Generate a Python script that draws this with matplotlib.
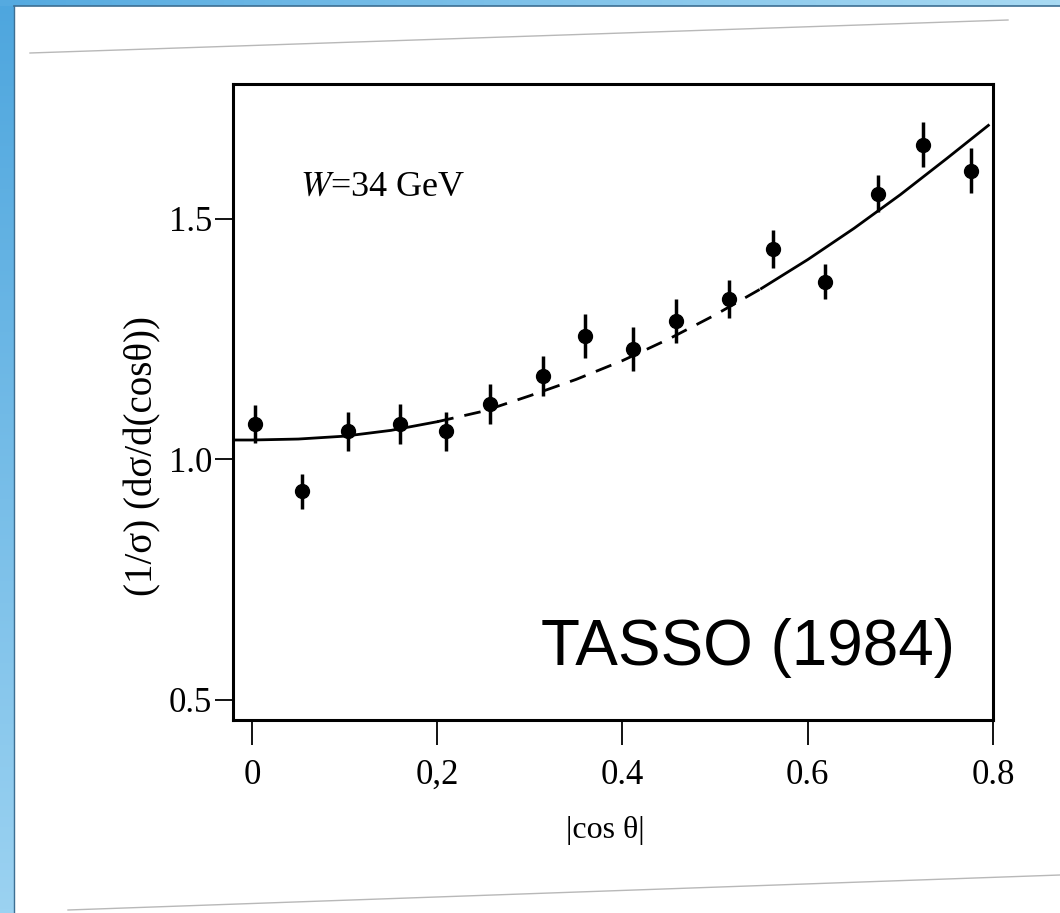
import numpy as np
import matplotlib.pyplot as plt
from matplotlib.colors import LinearSegmentedColormap

plt.rcParams['font.family'] = ['Liberation Serif', 'DejaVu Serif']
plt.rcParams['mathtext.fontset'] = 'stix'

# 数据点 (|cos θ|, 归一化截面, 误差)
cos_theta = [0.003, 0.054, 0.104, 0.160, 0.209, 0.257, 0.314, 0.360,
             0.411, 0.458, 0.515, 0.562, 0.619, 0.676, 0.724, 0.776]
dsigma = [1.073, 0.933, 1.058, 1.073, 1.058, 1.115, 1.173, 1.256,
          1.229, 1.288, 1.333, 1.437, 1.369, 1.552, 1.654, 1.600]
dsigma_err = [0.040, 0.036, 0.040, 0.042, 0.040, 0.042, 0.042, 0.046,
              0.045, 0.046, 0.040, 0.040, 0.036, 0.038, 0.046, 0.047]

# 拟合曲线
curve_x = [-0.02, 0.0, 0.05, 0.10, 0.15, 0.20, 0.25, 0.30, 0.35,
           0.40, 0.45, 0.50, 0.55, 0.60, 0.65, 0.70, 0.75, 0.795]
curve_y = [1.040, 1.040, 1.042, 1.048, 1.060, 1.078, 1.100, 1.132, 1.166,
           1.205, 1.250, 1.300, 1.355, 1.415, 1.480, 1.550, 1.625, 1.694]

y_ticks = [0.5, 1.0, 1.5]
y_tick_labels = ['0.5', '1.0', '1.5']
x_ticks = [0.0, 0.2, 0.4, 0.6, 0.8]
x_tick_labels = ['0', '0,2', '0.4', '0.6', '0.8']

W, H = 1060, 913
fig = plt.figure(figsize=(W / 100, H / 100), dpi=100, facecolor='white')

# ============================================================
# 幻灯片背景 (蓝色边框 + 灰色斜线)
# ============================================================
bg = fig.add_axes([0, 0, 1, 1], zorder=-5)
bg.axis('off')
grad_v = np.linspace(0, 1, 256).reshape(-1, 1)
bg.imshow(grad_v, extent=[0, 14, H, 0], aspect='auto',
          cmap=LinearSegmentedColormap.from_list('lb', ['#4ea6de', '#9bd2f1']))
grad_h = np.linspace(0, 1, 256).reshape(1, -1)
bg.imshow(grad_h, extent=[0, W, 6, 0], aspect='auto',
          cmap=LinearSegmentedColormap.from_list('tb', ['#55aae0', '#a8daf3']))
bg.plot([14, W], [6, 6], color='#3d6f93', lw=1.2)
bg.plot([14, 14], [6, H], color='#3d6f93', lw=1.0)
bg.plot([30, 1008], [53, 20], color='#b8b8b8', lw=1.0)
bg.plot([68, W], [910, 875], color='#b8b8b8', lw=1.0)
bg.set_xlim(0, W)
bg.set_ylim(H, 0)

# ============================================================
# 主图
# ============================================================
ax = fig.add_axes([233 / W, 1 - 720 / H, (993 - 233) / W, (720 - 84) / H])
ax.set_facecolor('white')

ax.plot(curve_x[:6], curve_y[:6], color='black', lw=2.0)
ax.plot(curve_x[5:13], curve_y[5:13], color='black', lw=2.0,
        dashes=(6, 4))
ax.plot(curve_x[12:], curve_y[12:], color='black', lw=2.0)

ax.errorbar(cos_theta, dsigma, yerr=dsigma_err, fmt='o', color='black',
            markersize=10, elinewidth=2.5, capsize=0)

ax.set_xlim(-0.0205, 0.8)
ax.set_ylim(0.458, 1.78)
ax.set_xticks(x_ticks)
ax.set_xticklabels(x_tick_labels)
ax.set_yticks(y_ticks)
ax.set_yticklabels(y_tick_labels)
ax.tick_params(axis='y', direction='out', length=13, width=1.3,
               labelsize=25, pad=2)
ax.tick_params(axis='x', direction='out', length=18, width=1.3,
               labelsize=25, pad=10)
for s in ax.spines.values():
    s.set_linewidth(2.2)

ax.set_xlabel('|cos θ|', fontsize=23)
ax.xaxis.set_label_coords((605 - 233) / 760, -(816 - 720) / 636)
ax.set_ylabel('(1/σ) (dσ/d(cosθ))', fontsize=28)
ax.yaxis.set_label_coords((161 - 233) / 760, (720 - 456) / 636)

fig.text(300 / W, 1 - 187 / H, r'$W$=34 GeV', fontsize=26,
         ha='left', va='center')
fig.text(748 / W, 1 - 665 / H, 'TASSO (1984)', fontsize=46,
         family=['Liberation Sans', 'DejaVu Sans'],
         ha='center', va='baseline')

fig.savefig('out.png', dpi=100, facecolor='white')
